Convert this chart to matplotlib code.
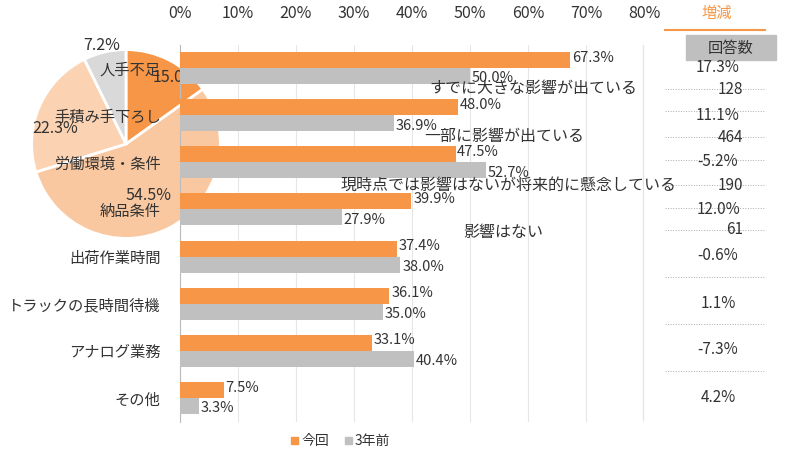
import matplotlib
matplotlib.use("Agg")
import matplotlib.pyplot as plt
import numpy as np

plt.rcParams["font.family"] = ["Noto Sans CJK JP"]

categories = ["人手不足", "手積み手下ろし", "労働環境・条件", "納品条件", "出荷作業時間",
              "トラックの長時間待機", "アナログ業務", "その他"]
current = [67.3, 48.0, 47.5, 39.9, 37.4, 36.1, 33.1, 7.5]
before = [50.0, 36.9, 52.7, 27.9, 38.0, 35.0, 40.4, 3.3]
changes = ["17.3%", "11.1%", "-5.2%", "12.0%", "-0.6%", "1.1%", "-7.3%", "4.2%"]
pie_labels = ["すでに大きな影響が出ている", "一部に影響が出ている",
              "現時点では影響はないが将来的に懸念している", "影響はない"]
pie_vals = [15.0, 54.5, 22.3, 7.2]
pie_counts = [128, 464, 190, 61]

W, H = 800, 467
fig = plt.figure(figsize=(8, 4.67), dpi=100)
def fx(x): return x / W
def fy(y): return 1 - y / H

ORANGE = "#F79646"; GREY = "#C0C0C0"; TXT = "#333333"

# pie
pax = fig.add_axes([fx(8), fy(262), fx(236), 236 / H], zorder=1)
pax.pie(pie_vals, colors=[ORANGE, "#FAC8A0", "#FBD3B3", "#D9D9D9"], startangle=90,
        counterclock=False, wedgeprops=dict(edgecolor="white", linewidth=2))
pax.set_aspect("equal")
pax.axis("off")

# bars
ax = fig.add_axes([fx(180), fy(421.5), fx(644 - 180), (421.5 - 44.5) / H], zorder=2)
ax.patch.set_alpha(0)
y = np.arange(len(categories))
h = 0.34
ax.barh(y - h / 2, current, height=h, color=ORANGE, zorder=3)
ax.barh(y + h / 2, before, height=h, color=GREY, zorder=3)
for i in range(len(categories)):
    ax.text(current[i] + 0.3, y[i] - h / 2 - 0.05, f"{current[i]:.1f}%", fontsize=10.5, color=TXT, va="center", zorder=4)
    ax.text(before[i] + 0.3, y[i] + h / 2 + 0.05, f"{before[i]:.1f}%", fontsize=10.5, color=TXT, va="center", zorder=4)
ax.set_xlim(0, 80)
ax.set_ylim(len(categories) - 0.5, -0.5)
ax.set_xticks(range(0, 81, 10))
ax.set_xticklabels([f"{v}%" for v in range(0, 81, 10)], fontsize=11.5, color=TXT)
ax.xaxis.tick_top()
ax.tick_params(axis="x", length=0, pad=16)
ax.tick_params(axis="y", length=0, pad=14)
ax.set_yticks(y)
ax.set_yticklabels(categories, fontsize=11, color=TXT)
ax.grid(axis="x", color="#E6E6E6", zorder=0)
for s in ["top", "right", "bottom"]:
    ax.spines[s].set_visible(False)
ax.spines["left"].set_color("#BBBBBB")

# pie labels
fig.text(fx(153), fy(77), f"{pie_vals[0]:.1f}%", fontsize=11.5, color=TXT, va="center", zorder=1.5)
fig.text(fx(83), fy(45), f"{pie_vals[3]:.1f}%", fontsize=11.5, color=TXT, va="center", zorder=5)
fig.text(fx(32), fy(128), f"{pie_vals[2]:.1f}%", fontsize=11.5, color=TXT, va="center", zorder=5)
fig.text(fx(126), fy(195), f"{pie_vals[1]:.1f}%", fontsize=11.5, color=TXT, va="center", zorder=5)
lab_pos = [(637, 88), (584, 136), (677, 185), (543, 232)]
for (px, py), t in zip(lab_pos, pie_labels):
    fig.text(fx(px), fy(py), t, fontsize=11.5, color=TXT, ha="right", va="center", zorder=5)

# right table
fig.text(fx(717), fy(13), "増減", fontsize=11, color=ORANGE, ha="center", va="center")
fig.add_artist(plt.Line2D([fx(665), fx(765)], [fy(30), fy(30)], color=ORANGE, lw=1.5))
fig.add_artist(plt.Rectangle((fx(686), fy(60)), fx(90), 25 / H, color="#BFBFBF"))
fig.text(fx(731), fy(48), "回答数", fontsize=11, color=TXT, ha="center", va="center")
ch_y = [67, 115, 162, 209, 256, 303, 350, 397]
for cy, c in zip(ch_y, changes):
    fig.text(fx(718), fy(cy), c, fontsize=11, color=TXT, ha="center", va="center")
cnt_y = [89, 137, 185, 230]
for cy, c in zip(cnt_y, pie_counts):
    fig.text(fx(743), fy(cy), str(c), fontsize=11, color=TXT, ha="right", va="center")
for ly in [89, 111, 137, 160, 185, 208, 230, 277, 324, 371]:
    fig.add_artist(plt.Line2D([fx(665), fx(765)], [fy(ly), fy(ly)], color="#AAAAAA", lw=0.7, ls=":"))
fig.add_artist(plt.Line2D([fx(643), fx(643)], [fy(45), fy(420)], color="#E6E6E6", lw=1))

# legend
fig.add_artist(plt.Rectangle((fx(291), fy(444)), 7 / W, 7 / H, color=ORANGE))
fig.text(fx(301), fy(441), "今回", fontsize=10, color=TXT, va="center")
fig.add_artist(plt.Rectangle((fx(345), fy(444)), 7 / W, 7 / H, color=GREY))
fig.text(fx(355), fy(441), "3年前", fontsize=10, color=TXT, va="center")

fig.savefig("out.png", dpi=100, facecolor="white")
